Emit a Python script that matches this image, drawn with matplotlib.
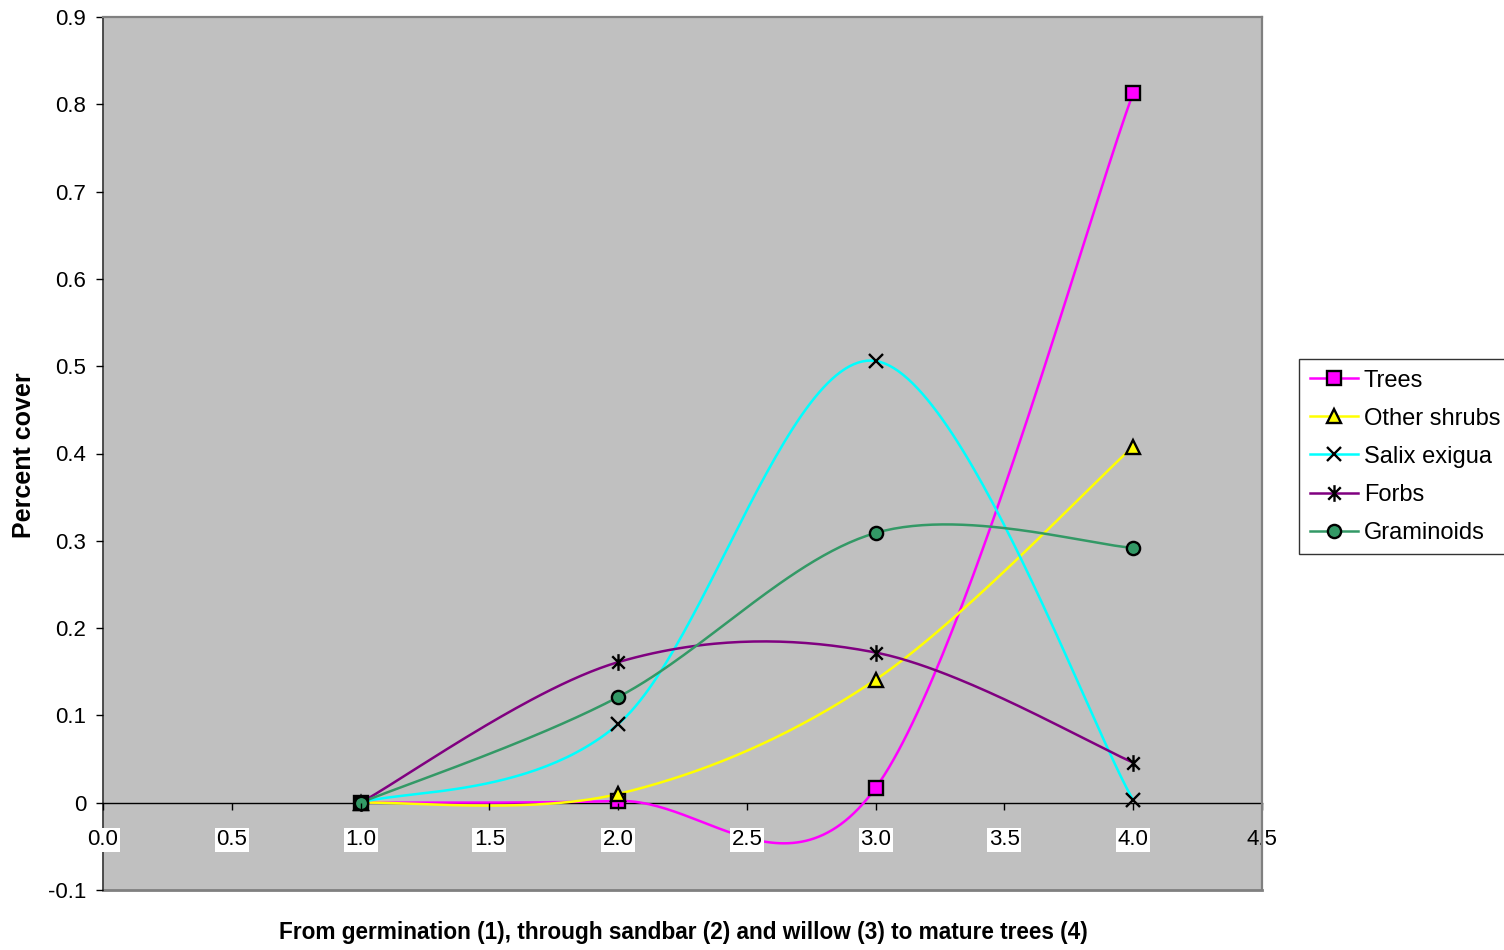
import numpy as np
import matplotlib
matplotlib.use('Agg')
import matplotlib.pyplot as plt
from matplotlib.path import Path

plt.rcParams['font.family'] = ['Liberation Sans', 'DejaVu Sans']

stage = [1, 2, 3, 4]
trees = [0.0, 0.002, 0.017, 0.813]
other_shrubs = [0.0, 0.010, 0.141, 0.408]
salix = [0.0, 0.090, 0.506, 0.003]
forbs = [0.0, 0.161, 0.172, 0.046]
graminoids = [0.0, 0.121, 0.309, 0.292]

names = ['Trees', 'Other shrubs', 'Salix exigua', 'Forbs', 'Graminoids']
line_colors = ['#FF00FF', '#FFFF00', '#00FFFF', '#800080', '#339966']
face_colors = ['#FF00FF', '#FFFF00', 'none', 'none', '#339966']

xticks = [0.0, 0.5, 1.0, 1.5, 2.0, 2.5, 3.0, 3.5, 4.0, 4.5]
yticks = [-0.1, 0, 0.1, 0.2, 0.3, 0.4, 0.5, 0.6, 0.7, 0.8, 0.9]

# asterisk marker: vertical bar plus an x
star = Path([(0, -1), (0, 1), (-0.75, -0.75), (0.75, 0.75), (-0.75, 0.75), (0.75, -0.75)],
            [Path.MOVETO, Path.LINETO, Path.MOVETO, Path.LINETO, Path.MOVETO, Path.LINETO])
markers = ['s', '^', 'x', star, 'o']
msizes = [9.5, 9.5, 10.5, 12, 9.5]


def smooth(x, y, n=60):
    # piecewise cubic bezier through the points (spreadsheet style smoothing)
    p = np.column_stack([x, y]).astype(float)
    pts = np.vstack([p[0], p, p[-1]])
    out = []
    t = np.linspace(0, 1, n)[:, None]
    for i in range(1, len(pts) - 2):
        p0, p1, p2, p3 = pts[i - 1], pts[i], pts[i + 1], pts[i + 2]
        c1 = p1 + (p2 - p0) / 6
        c2 = p2 - (p3 - p1) / 6
        seg = ((1 - t) ** 3) * p1 + 3 * ((1 - t) ** 2) * t * c1 + 3 * (1 - t) * t ** 2 * c2 + t ** 3 * p2
        out.append(seg if i == 1 else seg[1:])
    s = np.vstack(out)
    return s[:, 0], s[:, 1]


fig = plt.figure(figsize=(15.04, 9.5), dpi=100)
ax = fig.add_axes([103 / 1504, 60 / 950, 1159 / 1504, 873 / 950])
ax.set_facecolor('#C0C0C0')

series = [trees, other_shrubs, salix, forbs, graminoids]
handles = []
for vals, name, lc, fc, mk, ms in zip(series, names, line_colors, face_colors, markers, msizes):
    sx, sy = smooth(stage, vals)
    ax.plot(sx, sy, color=lc, lw=1.8, zorder=3)
    ax.plot(stage, vals, ls='none', marker=mk, ms=ms,
            mfc=fc, mec='black', mew=1.7, zorder=4)
    h, = ax.plot([], [], color=lc, lw=1.8, marker=mk, ms=ms, mfc=fc, mec='black', mew=1.7)
    h.set_label(name)
    handles.append(h)

ax.set_xlim(0, 4.5)
ax.set_ylim(-0.1, 0.9)
ax.set_xticks(xticks)
ax.set_xticklabels(['%.1f' % v for v in xticks])
ax.set_yticks(yticks)
ax.set_yticklabels(['0' if v == 0 else '%g' % v for v in yticks])

ax.spines['bottom'].set_position(('data', 0))
ax.spines['bottom'].set_color('black')
ax.spines['bottom'].set_linewidth(1.0)
ax.spines['bottom'].set_zorder(2)
ax.spines['left'].set_color('#404040')
ax.spines['left'].set_linewidth(1.3)
ax.spines['left'].set_zorder(1)
for side in ['top', 'right']:
    ax.spines[side].set_color('#808080')
    ax.spines[side].set_linewidth(1.6)
ax.spines['right'].set_zorder(6)
# bottom border of the plot area
ax.axhline(-0.1, color='#808080', lw=2.0, zorder=1, clip_on=False)

# x tick labels sit on top of the curves
ax.xaxis.set_zorder(5)
ax.tick_params(axis='x', direction='out', length=5, width=1, colors='black',
               labelsize=16, pad=14)
ax.tick_params(axis='y', direction='out', length=5, width=1, colors='black',
               labelsize=16, pad=7)
for lab in ax.get_xticklabels()[:-1]:
    lab.set_bbox(dict(facecolor='white', edgecolor='none', pad=1.2))

fig.text(24 / 1504, 1 - 455 / 950, 'Percent cover', rotation=90, fontsize=18,
         fontweight='bold', ha='center', va='center')
fig.text(683 / 1504, 1 - 933 / 950,
         'From germination (1), through sandbar (2) and willow (3) to mature trees (4)',
         fontsize=16.3, fontweight='bold', ha='center', va='center')

leg = fig.legend(handles=handles, loc='upper left',
                 bbox_to_anchor=(1299 / 1504, 1 - 359 / 950),
                 fontsize=17, frameon=True, fancybox=False, borderaxespad=0,
                 handlelength=2.05, handletextpad=0.25, labelspacing=0.68,
                 borderpad=0.45)
leg.get_frame().set_edgecolor('black')
leg.get_frame().set_linewidth(1.0)

fig.savefig('out.png', dpi=100, facecolor='white')
